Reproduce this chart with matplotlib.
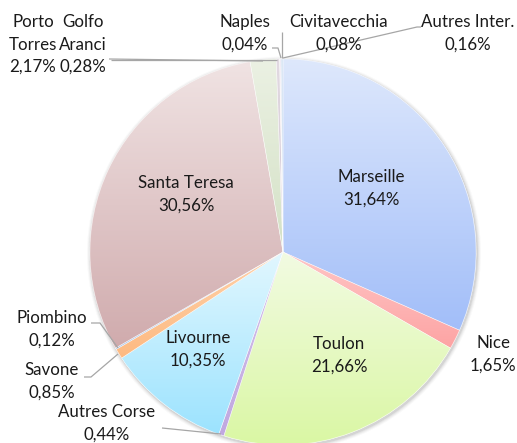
import numpy as np
import matplotlib
matplotlib.use("Agg")
import matplotlib.pyplot as plt
from matplotlib.colors import LinearSegmentedColormap
from matplotlib.patches import Circle, Wedge

# ---- data ----
ports = ["Marseille", "Nice", "Toulon", "Autres Corse", "Livourne", "Savone",
         "Piombino", "Santa Teresa", "Porto Torres", "Golfo Aranci", "Naples",
         "Civitavecchia", "Autres Inter."]
shares = [31.64, 1.65, 21.66, 0.44, 10.35, 0.85, 0.12, 30.56, 2.17, 0.28,
          0.04, 0.08, 0.16]
label_lines = ["Marseille", "Nice", "Toulon", "Autres Corse", "Livourne", "Savone",
               "Piombino", "Santa Teresa", "Porto\nTorres", "Golfo\nAranci", "Naples",
               "Civitavecchia", "Autres Inter."]

# ---- styles (top colour, bottom colour of each gradient) ----
grad = [("#dee8fc", "#a2bef9"), ("#ffc6c6", "#fda4a4"), ("#f2fbe2", "#daf7a4"),
        ("#d4c2ea", "#c0a8e0"), ("#e2f7ff", "#9ce3fe"), ("#ffd2aa", "#fdba82"),
        ("#c8daf2", "#a8c4ec"), ("#f0e3e3", "#d0abad"), ("#ebf1e3", "#d4e1c6"),
        ("#e2dae2", "#d2c6d2"), ("#f0caca", "#e8b8b8"), ("#dcd2ea", "#cbbfe0"),
        ("#cfe0f2", "#b8d0ec")]

W, H = 517, 443
cx, cy, R = 283, 252, 193

# label centres in pixel coords (x, y of first line)
label_pos = [(371, 177), (493, 343), (339, 344), (107, 412), (198, 338), (52, 370),
             (52, 318), (186, 183), (33, 22), (83, 22), (245, 22), (339, 22),
             (468, 22)]
line_gap = 22.5

# leader lines (pixel coords)
leaders = [
    [(162, 428), (221, 434)],                 # Autres Corse
    [(84, 377), (91, 377), (118, 354)],       # Savone
    [(91, 323), (100, 323), (118, 348)],      # Piombino
    [(109, 59), (263, 61)],                   # Porto Torres
    [(111, 60), (277, 60)],                   # Golfo Aranci
    [(272, 48), (278, 48), (281, 58)],        # Naples
    [(282, 58), (282, 32)],                   # Civitavecchia
    [(283, 58), (417, 27), (421, 27)],        # Autres Inter.
]

plt.rcParams['font.family'] = ['Lato', 'DejaVu Sans']

fig = plt.figure(figsize=(W / 100, H / 100), dpi=100)
ax = fig.add_axes([0, 0, 1, 1])

def py(y):
    return H - y

# soft shadow
for i, a in enumerate([0.10, 0.07, 0.05, 0.03]):
    ax.add_patch(Circle((cx + 1, py(cy) - 1.5), R + 1 + i, facecolor="#505050",
                        edgecolor="none", alpha=a, zorder=0))

wedges, _ = ax.pie(shares, startangle=90, counterclock=False, radius=R,
                   center=(cx, py(cy)), frame=True,
                   wedgeprops=dict(edgecolor="white", linewidth=0.4))

for w, (ctop, cbot) in zip(wedges, grad):
    w.set_facecolor(cbot)
    w.set_zorder(1)
    ext = w.get_path().get_extents()
    cmap = LinearSegmentedColormap.from_list("g", [cbot, ctop])
    g = np.linspace(0, 1, 256).reshape(-1, 1)
    im = ax.imshow(g, cmap=cmap, origin="lower", aspect="auto",
                   extent=[ext.x0, ext.x1, ext.y0, ext.y1], zorder=2,
                   interpolation="bilinear")
    im.set_clip_path(w)
    ax.add_patch(Wedge((cx, py(cy)), R, w.theta1, w.theta2,
                       facecolor="none", edgecolor=(1, 1, 1, 0.6),
                       linewidth=0.4, zorder=3))

for pts in leaders:
    xs = [p[0] for p in pts]
    ys = [py(p[1]) for p in pts]
    ax.plot(xs, ys, color="#a6a6a6", lw=0.9, zorder=4, solid_capstyle="butt")

for txt, v, (x, y) in zip(label_lines, shares, label_pos):
    lines = txt.split("\n") + [f"{v:.2f}%".replace(".", ",")]
    for k, ln in enumerate(lines):
        ax.text(x, py(y + k * line_gap), ln, ha="center", va="center",
                fontsize=12.2, color="#1a1a1a", zorder=5)

ax.set_xlim(0, W)
ax.set_ylim(0, H)
ax.set_aspect("auto")
ax.axis("off")
fig.savefig("out.png", dpi=100)
